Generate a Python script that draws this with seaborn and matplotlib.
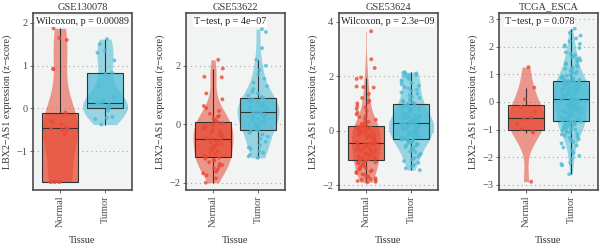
import matplotlib
matplotlib.use("Agg")

import pandas as pd
import matplotlib.pyplot as plt
import seaborn as sns

# ===============================
# data (z-scores)
# ===============================
datasets = ['GSE130078', 'GSE53622', 'GSE53624', 'TCGA_ESCA']
tests = ['Wilcoxon, p = 0.00089', 'T\u2212test, p = 4e\u221207',
         'Wilcoxon, p = 2.3e\u221209', 'T\u2212test, p = 0.078']
groups = ['Normal', 'Tumor']

gse130078_normal = [1.87, 1.65, 1.60, 0.92, 0.92, -0.10, -0.30, -0.33, -0.38, -0.45, -0.47,
                    -0.48, -0.50, -0.52, -0.60, -1.72, -1.72, -1.72, -1.72, -1.72, -1.72]
gse130078_tumor = [1.62, 1.50, 1.35, 1.30, 1.12, 0.83, 0.80, 0.50, 0.25, 0.20, 0.15,
                   0.13, 0.12, 0.10, 0.08, 0.05, 0.02, 0.00, -0.05, -0.20, -0.22,
                   -0.25, -0.38]

gse53622_normal = [-2.00, -1.85, -1.75, -1.68, -1.62, -1.55, -1.50, -1.45, -1.40, -1.35,
                   -1.30, -1.25, -1.22, -1.18, -1.15, -1.12, -1.08, -1.02, -0.98, -0.92,
                   -0.88, -0.83, -0.78, -0.74, -0.70, -0.66, -0.62, -0.58, -0.54, -0.51,
                   -0.49, -0.45, -0.40, -0.36, -0.32, -0.28, -0.24, -0.20, -0.16, -0.12,
                   -0.08, -0.04, 0.00, 0.04, 0.08, 0.12, 0.16, 0.20, 0.25, 0.28,
                   0.35, 0.45, 0.55, 0.62, 0.85, 1.05, 1.60, 1.62, 1.90, 2.20]
gse53622_tumor = [-1.15, -1.10, -1.05, -0.98, -0.92, -0.85, -0.80, -0.72, -0.60, -0.50,
                  -0.42, -0.35, -0.30, -0.25, -0.21, -0.19, -0.15, -0.10, -0.05, 0.00,
                  0.05, 0.10, 0.15, 0.18, 0.22, 0.26, 0.30, 0.33, 0.36, 0.39,
                  0.41, 0.44, 0.48, 0.52, 0.55, 0.58, 0.62, 0.65, 0.68, 0.72,
                  0.75, 0.78, 0.82, 0.85, 0.89, 0.93, 0.98, 1.05, 1.10, 1.20,
                  1.30, 1.42, 1.55, 1.70, 1.85, 2.00, 2.20, 2.60, 3.15, 3.25]

gse53624_normal = [-1.90, -1.88, -1.85, -1.82, -1.80, -1.78, -1.75, -1.72, -1.70, -1.66,
                   -1.62, -1.60, -1.56, -1.52, -1.50, -1.46, -1.42, -1.40, -1.37, -1.34,
                   -1.30, -1.28, -1.25, -1.22, -1.20, -1.18, -1.16, -1.14, -1.12, -1.10,
                   -1.09, -1.06, -1.03, -1.00, -0.98, -0.95, -0.93, -0.90, -0.88, -0.85,
                   -0.83, -0.80, -0.78, -0.75, -0.73, -0.70, -0.68, -0.66, -0.64, -0.62,
                   -0.60, -0.58, -0.56, -0.54, -0.52, -0.50, -0.49, -0.48, -0.46, -0.45,
                   -0.43, -0.40, -0.38, -0.35, -0.32, -0.30, -0.27, -0.25, -0.22, -0.20,
                   -0.17, -0.15, -0.12, -0.10, -0.08, -0.05, -0.03, 0.00, 0.02, 0.04,
                   0.06, 0.08, 0.09, 0.10, 0.11, 0.12, 0.13, 0.14, 0.15, 0.16,
                   0.18, 0.21, 0.25, 0.28, 0.32, 0.35, 0.40, 0.45, 0.50, 0.55,
                   0.60, 0.66, 0.72, 0.80, 0.85, 0.90, 1.00, 1.05, 1.10, 1.20,
                   1.35, 1.58, 1.60, 1.62, 1.90, 1.95, 2.30, 2.62, 3.65]
gse53624_tumor = [-1.45, -1.38, -1.32, -1.25, -1.18, -1.12, -1.06, -1.00, -0.95, -0.90,
                  -0.85, -0.80, -0.76, -0.72, -0.68, -0.64, -0.60, -0.57, -0.54, -0.51,
                  -0.48, -0.45, -0.43, -0.41, -0.39, -0.37, -0.35, -0.33, -0.31, -0.30,
                  -0.29, -0.27, -0.25, -0.22, -0.20, -0.17, -0.15, -0.12, -0.10, -0.08,
                  -0.06, -0.04, -0.02, 0.00, 0.02, 0.04, 0.06, 0.08, 0.10, 0.12,
                  0.14, 0.15, 0.17, 0.18, 0.20, 0.21, 0.23, 0.24, 0.26, 0.27,
                  0.28, 0.30, 0.31, 0.33, 0.34, 0.36, 0.38, 0.40, 0.42, 0.44,
                  0.46, 0.48, 0.50, 0.52, 0.54, 0.56, 0.58, 0.61, 0.64, 0.67,
                  0.70, 0.73, 0.76, 0.79, 0.82, 0.85, 0.88, 0.91, 0.95, 0.99,
                  1.00, 1.03, 1.06, 1.10, 1.13, 1.16, 1.20, 1.25, 1.30, 1.35,
                  1.40, 1.45, 1.50, 1.55, 1.60, 1.65, 1.70, 1.75, 1.80, 1.85,
                  1.90, 1.95, 2.00, 2.02, 2.05, 2.08, 2.10, 2.12, 2.15]

tcga_normal = [-2.89, -1.11, -1.07, -0.98, -0.81, -0.62, -0.57, -0.35, -0.18, 0.10, 0.52, 1.26]
tcga_tumor = [-2.62, -2.30, -2.25, -2.20, -2.05, -1.95, -1.85, -1.75, -1.65, -1.58,
              -1.50, -1.45, -1.40, -1.35, -1.30, -1.26, -1.22, -1.18, -1.15, -1.12,
              -1.09, -1.06, -1.03, -1.00, -0.98, -0.95, -0.93, -0.91, -0.89, -0.87,
              -0.85, -0.83, -0.81, -0.79, -0.77, -0.75, -0.74, -0.72, -0.71, -0.70,
              -0.68, -0.66, -0.63, -0.62, -0.59, -0.57, -0.55, -0.53, -0.50, -0.49,
              -0.46, -0.44, -0.43, -0.40, -0.38, -0.36, -0.33, -0.32, -0.30, -0.27,
              -0.26, -0.24, -0.21, -0.20, -0.18, -0.15, -0.14, -0.12, -0.09, -0.08,
              -0.06, -0.03, -0.02, 0.00, 0.03, 0.04, 0.06, 0.09, 0.10, 0.11,
              0.12, 0.14, 0.16, 0.17, 0.19, 0.21, 0.22, 0.24, 0.25, 0.27,
              0.29, 0.30, 0.32, 0.34, 0.35, 0.37, 0.38, 0.40, 0.42, 0.43,
              0.45, 0.46, 0.48, 0.50, 0.51, 0.53, 0.54, 0.56, 0.58, 0.59,
              0.61, 0.62, 0.64, 0.66, 0.67, 0.69, 0.70, 0.72, 0.73, 0.74,
              0.75, 0.77, 0.79, 0.81, 0.83, 0.85, 0.87, 0.90, 0.92, 0.95,
              0.98, 1.00, 1.03, 1.06, 1.10, 1.13, 1.16, 1.20, 1.24, 1.28,
              1.32, 1.36, 1.40, 1.45, 1.50, 1.55, 1.58, 1.60, 1.65, 1.70,
              1.75, 1.80, 1.95, 2.00, 2.05, 2.10, 2.20, 2.30, 2.40, 2.50, 2.65]

values = [
    (gse130078_normal, gse130078_tumor),
    (gse53622_normal, gse53622_tumor),
    (gse53624_normal, gse53624_tumor),
    (tcga_normal, tcga_tumor),
]

y_ticks = [[-1, 0, 1, 2], [-2, 0, 2], [-2, 0, 2, 4], [-3, -2, -1, 0, 1, 2, 3]]
y_lims = [(-1.91, 2.23), (-2.25, 3.8), (-2.18, 4.32), (-3.19, 3.22)]

# widest part of each violin (category units), as measured on the reference
violin_w = [(0.78, 1.0), (0.89, 0.93), (0.64, 1.0), (0.8, 0.78)]

# ===============================
# style
# ===============================
sns.set_theme(style="ticks")
plt.rcParams['font.family'] = ['Liberation Serif', 'DejaVu Serif']
plt.rcParams['axes.unicode_minus'] = True

palette = {'Normal': '#E64B35', 'Tumor': '#4DBBD5'}
grey = '#4D4D4D'

fig = plt.figure(figsize=(6, 2.45), dpi=100)
W, H = 600, 245
panel_left = [33, 186, 339, 499]
text_x = [0.03, 0.08, 0.02, 0.06]

for k, (name, test) in enumerate(zip(datasets, tests)):
    ax = fig.add_axes([panel_left[k] / W, (H - 190) / H, 99 / W, 177 / H])
    normal, tumor = values[k]
    df = pd.DataFrame({
        'Tissue': ['Normal'] * len(normal) + ['Tumor'] * len(tumor),
        'value': normal + tumor,
    })

    ax.set_facecolor('#F2F3F3')
    ax.set_axisbelow(True)
    ax.grid(True, color='#A8A8A8', linestyle=(0, (1, 3)), linewidth=0.8)

    # violins (one call per group so each gets its own width)
    for g, w in zip(groups, violin_w[k]):
        sns.violinplot(data=df[df['Tissue'] == g], x='Tissue', y='value', order=groups,
                       color=palette[g], cut=0, inner=None, linewidth=0,
                       density_norm='width', bw_method='silverman', bw_adjust=0.85,
                       width=w, saturation=1, ax=ax)
    for c in ax.collections:
        c.set_alpha(0.55)

    # boxes
    sns.boxplot(data=df, x='Tissue', y='value', hue='Tissue', palette=palette,
                order=groups, hue_order=groups, width=0.78, showcaps=False,
                showfliers=False, linecolor='#333333', linewidth=0.8,
                saturation=1, legend=False, ax=ax)
    for p in ax.patches:
        fc = p.get_facecolor()
        p.set_facecolor((fc[0], fc[1], fc[2], 0.75))

    # points
    sns.stripplot(data=df, x='Tissue', y='value', hue='Tissue', palette=palette,
                  order=groups, hue_order=groups, jitter=0.22, size=2.8,
                  alpha=0.8, linewidth=0, legend=False, ax=ax, zorder=4)

    ax.set_xlim(-0.6, 1.6)
    ax.set_ylim(*y_lims[k])
    ax.set_yticks(y_ticks[k])
    ax.tick_params(axis='both', colors=grey, labelsize=7.5, length=2.5, width=0.6,
                   pad=1.5)
    ax.tick_params(axis='x', labelrotation=90)
    for s in ax.spines.values():
        s.set_visible(True)
        s.set_color(grey)
        s.set_linewidth(1.2)

    ax.set_title(name, fontsize=7.5, color='#333333', pad=2.5)
    ax.set_xlabel('Tissue', fontsize=7.5, color='#333333', labelpad=6)
    ax.set_ylabel('LBX2\u2212AS1 expression (z\u2212score)', fontsize=7.2,
                  color='#333333', labelpad=3)

    ax.text(text_x[k], 0.95, test, transform=ax.transAxes, ha='left', va='center',
            fontsize=7.3, color='#222222', zorder=6,
            bbox=dict(facecolor='white', edgecolor='none', pad=0.8))

fig.savefig('out.png', dpi=100)
plt.close(fig)
